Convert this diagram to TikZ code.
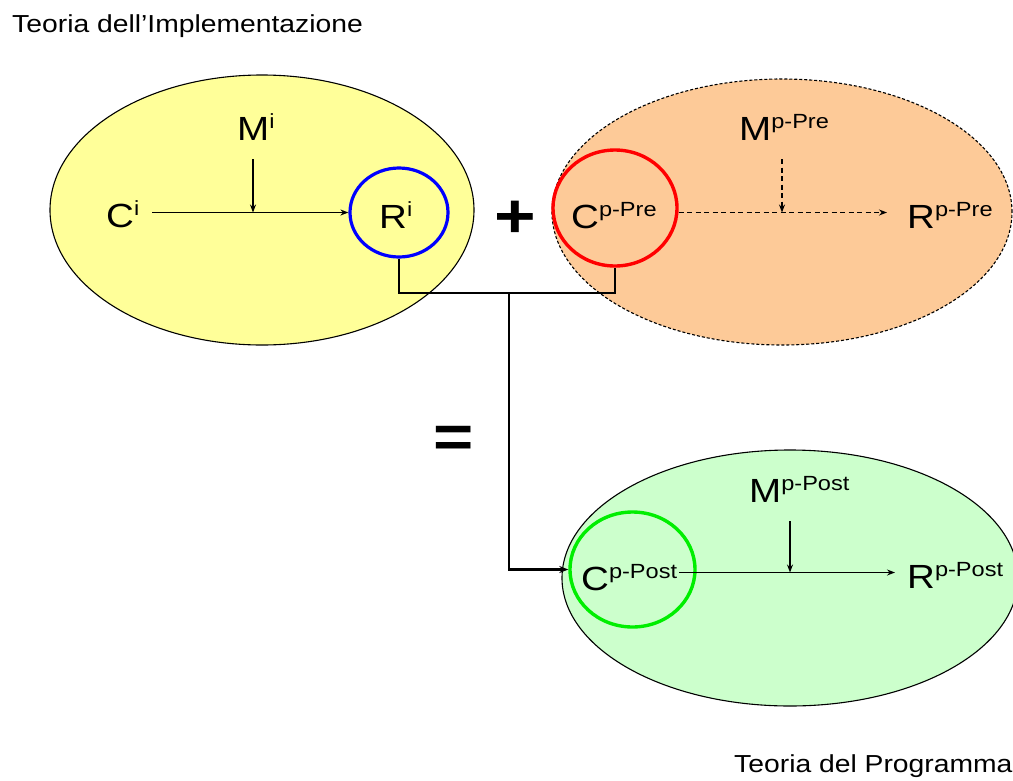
\documentclass[tikz,border=0pt]{standalone}
\usepackage{fontspec}
\setmainfont[FakeStretch=1.15]{Liberation Sans}
\usetikzlibrary{shapes.geometric,arrows.meta}
\newcommand{\bigf}{\fontsize{33.5}{38}\selectfont}
\newcommand{\supf}{\fontsize{20.5}{24}\selectfont}
\newcommand{\lab}[2]{{\bigf #1}\raisebox{11.5pt}{\supf #2}}
\definecolor{yel}{HTML}{FFFF99}
\definecolor{org}{HTML}{FDCA98}
\definecolor{grn}{HTML}{CCFFCC}
\definecolor{cgrn}{HTML}{00EE00}
\tikzset{
  lab/.style={anchor=base west,inner sep=0pt,text=black},
  bigell/.style={ellipse,draw=black,line width=1.1pt,inner sep=0pt},
  ring/.style={ellipse,inner sep=0pt,line width=3.2pt},
  arr/.style={line width=1.3pt,-{Stealth[length=8pt,width=6pt]}},
  dasharr/.style={arr,dash pattern=on 5pt off 3.5pt},
  conn/.style={line width=2.4pt},
  title/.style={anchor=base west,inner sep=0pt,font=\fontsize{24.6}{28}\selectfont}
}
\begin{document}
\begin{tikzpicture}[x=1pt,y=-1pt]
\useasboundingbox (0,0) rectangle (1013,780);
% big ellipses
\node[bigell,fill=yel,minimum width=424pt,minimum height=270pt] (yell) at (262,210) {};
\node[bigell,fill=org,dash pattern=on 3pt off 2pt,minimum width=460pt,minimum height=266pt] (orng) at (782,212) {};
\node[bigell,fill=grn,minimum width=456pt,minimum height=256pt] (grne) at (790,578) {};
% titles
\node[title] (t1) at (12,32) {Teoria dell’Implementazione};
\node[title] (t2) at (734,772) {Teoria del Programma};
% yellow content
\node[lab] (ci) at (106,227) {\lab{C}{i}};
\node[lab] (mi) at (237,140) {\lab{M}{i}};
\node[ring,draw=blue,minimum width=98pt,minimum height=89pt] (ri) at (399,212.5) {};
\node[lab] (rit) at (379,228) {\lab{R}{i}};
\coordinate (riIn) at ([shift={(-29,-15.5)}]rit.base west);
\draw[arr,shorten <=13pt] (ci.east |- riIn) -- (ri.west |- riIn);
\draw[arr] ([shift={(16,19)}]mi.base west) -- ([xshift=16pt]mi.base west |- riIn);
% orange content
\node[ring,draw=red,line width=3.4pt,minimum width=124pt,minimum height=116pt] (cpc) at (615,208) {};
\node[lab] (cpre) at (571,228) {\lab{C}{p-Pre}};
\node[lab] (mpre) at (739,140) {\lab{M}{p-Pre}};
\node[lab] (rpre) at (907,228) {\lab{R}{p-Pre}};
\coordinate (rpreIn) at ([shift={(-20,-15.5)}]rpre.base west);
\draw[dasharr] (cpc.east |- rpreIn) -- (rpreIn);
\draw[dasharr] ([shift={(43,19)}]mpre.base west) -- ([xshift=43pt]mpre.base west |- rpreIn);
% green content
\node[ring,draw=cgrn,line width=3.4pt,minimum width=125pt,minimum height=115pt] (cpostc) at (632.5,569.5) {};
\node[lab] (cpost) at (581,590) {\lab{C}{p-Post}};
\node[lab] (mpost) at (749,502) {\lab{M}{p-Post}};
\node[lab] (rpost) at (907,588) {\lab{R}{p-Post}};
\coordinate (rpostIn) at ([shift={(-12,-15.5)}]rpost.base west);
\draw[arr,shorten <=2pt] (cpost.east |- rpostIn) -- (rpostIn);
\draw[arr] ([shift={(41,19)}]mpost.base west) -- ([xshift=41pt]mpost.base west |- rpostIn);
% operators
\node[anchor=base,inner sep=0pt,font=\fontsize{62}{70}\selectfont\bfseries] (plus) at (515,237) {+};
\node[anchor=base,inner sep=0pt,font=\fontsize{60}{70}\selectfont\bfseries] (eq) at (453.5,457) {=};
% connectors
\coordinate (jn) at (509,293);
\draw[conn] (ri.south) |- (jn) -| (cpc.south);
\draw[conn,-{Stealth[length=9pt,width=7pt]}] (jn) |- (cpostc.west);
\end{tikzpicture}
\end{document}
